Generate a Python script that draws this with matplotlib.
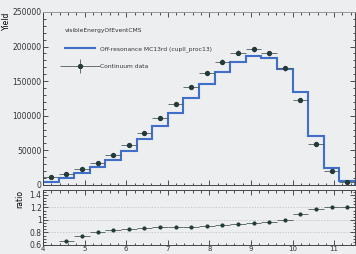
"""visibleEnergyOfEventCMS: off-resonance MC vs continuum data, with ratio panel"""
import numpy as np
import matplotlib
matplotlib.use('Agg')
from matplotlib import pyplot as plt
from matplotlib.ticker import MultipleLocator
from matplotlib.container import ErrorbarContainer
from matplotlib.legend_handler import HandlerErrorbar

# 20 bins from 4 to 11.5
bin_edges = np.linspace(4.0, 11.5, 21)
data_yield = [11100, 15400, 22700, 31300, 43400, 57800, 75600, 96400, 117000, 141000,
              161400, 178000, 191000, 196000, 190000, 168600, 122800, 59200, 20700, 4800]
mc_yield = [4800, 10300, 17000, 25200, 36700, 49500, 66000, 85000, 104000, 126000,
            146000, 163000, 177000, 186000, 183000, 168000, 134000, 70000, 25000, 5800]

LEGEND_TITLE = 'visibleEnergyOfEventCMS'
MC_LABEL = 'Off-resonance MC13rd (cupll_proc13)'
DATA_LABEL = 'Continuum data'

BG = '#eceef0'
MC_COLOR = '#3f6fc8'
DATA_COLOR = '#233a3a'
FS = 5.5

centers = 0.5 * (bin_edges[1:] + bin_edges[:-1])
half_w = 0.5 * np.diff(bin_edges)
data = np.array(data_yield, dtype=float)
mc = np.array(mc_yield, dtype=float)
ratio = mc / data
ratio_err = ratio * np.sqrt(1 / data + 1 / mc)

fig = plt.figure(figsize=(3.56, 2.54), dpi=100, facecolor=BG)
ax = fig.add_axes([0.121, 0.272, 0.876, 0.681], facecolor=BG)
axr = fig.add_axes([0.121, 0.036, 0.876, 0.216], facecolor=BG, sharex=ax)

ax.stairs(mc, bin_edges, color=MC_COLOR, linewidth=1.5, label=MC_LABEL)
ax.errorbar(centers, data, xerr=half_w, yerr=np.sqrt(data) * 8, fmt='o', ms=2.8,
            color=DATA_COLOR, ecolor='#4f5a5a', elinewidth=0.6, capsize=0, label=DATA_LABEL)
ax.set_xlim(4.0, 11.5)
ax.set_ylim(0, 250000)
ax.yaxis.set_major_locator(MultipleLocator(50000))
ax.yaxis.set_minor_locator(MultipleLocator(10000))
ax.xaxis.set_major_locator(MultipleLocator(1))
ax.xaxis.set_minor_locator(MultipleLocator(0.2))
ax.tick_params(axis='x', labelbottom=False)
ax.set_ylabel('Yield', fontsize=FS, loc='top', labelpad=1)

ax.text(0.07, 0.89, LEGEND_TITLE, transform=ax.transAxes, fontsize=4.3,
        color='#333333', va='center', ha='left')
leg = ax.legend(loc='upper left', bbox_to_anchor=(0.055, 0.83), frameon=False,
                fontsize=4.3, handlelength=5, labelspacing=2.0, borderpad=0.3,
                handler_map={ErrorbarContainer: HandlerErrorbar(xerr_size=3.4, yerr_size=1.1)})
for t in leg.get_texts():
    t.set_color('#333333')

axr.errorbar(centers, ratio, xerr=half_w, yerr=ratio_err, fmt='o', ms=2.0,
             color=DATA_COLOR, ecolor='#4f5a5a', elinewidth=0.6, capsize=0)
for yv in (0.8, 1.0, 1.2):
    axr.axhline(yv, color='#bbbbbb', linewidth=0.5, linestyle=(0, (2, 2)), zorder=0)
axr.set_ylim(0.6, 1.48)
axr.yaxis.set_major_locator(MultipleLocator(0.2))
axr.yaxis.set_minor_locator(MultipleLocator(0.05))
axr.set_ylabel('ratio', fontsize=FS, loc='top', labelpad=4)
axr.set_yticks([0.6, 0.8, 1.0, 1.2, 1.4], ['0.6', '0.8', '1', '1.2', '1.4'])

for a in (ax, axr):
    a.tick_params(which='both', direction='in', top=True, right=True,
                  labelsize=FS, colors='#333333', width=0.6, pad=1)
    a.tick_params(which='major', length=3.5)
    a.tick_params(which='minor', length=1.8)
    for s in a.spines.values():
        s.set_color('#444444')
        s.set_linewidth(0.7)
ax.spines['top'].set_color('#999999')
axr.tick_params(axis='x', labelsize=5, pad=0.5)

plt.savefig('out.png', dpi=100, facecolor=BG)
